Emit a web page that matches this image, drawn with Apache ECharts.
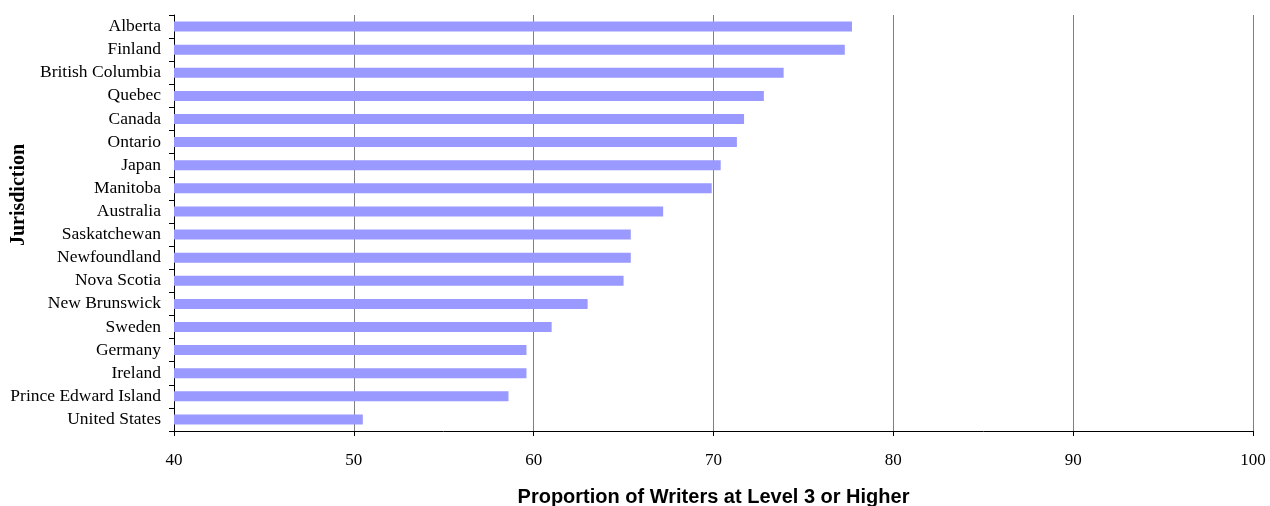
<!DOCTYPE html>
<html>
<head>
<meta charset="utf-8">
<script src="https://cdn.jsdelivr.net/npm/echarts@6/dist/echarts.min.js"></script>
<style>html,body{margin:0;padding:0;background:#fff;}#c{width:1270px;height:506px;}</style>
</head>
<body>
<div id="c"></div>
<script>
const categories = ["Alberta","Finland","British Columbia","Quebec","Canada","Ontario","Japan","Manitoba","Australia","Saskatchewan","Newfoundland","Nova Scotia","New Brunswick","Sweden","Germany","Ireland","Prince Edward Island","United States"];
const values = [77.7,77.3,73.9,72.8,71.7,71.3,70.4,69.9,67.2,65.4,65.4,65.0,63.0,61.0,59.6,59.6,58.6,50.5];
const xTicks = [40,50,60,70,80,90,100];
const xTitle = "Proportion of Writers at Level 3 or Higher";
const yTitle = "Jurisdiction";

const chart = echarts.init(document.getElementById('c'), null, {renderer:'canvas'});
chart.setOption({
  animation:false,
  backgroundColor:'#ffffff',
  grid:{left:174,right:17,top:15,bottom:75,containLabel:false,outerBoundsMode:'none'},
  xAxis:{
    type:'value', min:xTicks[0], max:xTicks[xTicks.length-1], interval:10,
    name:xTitle, nameLocation:'middle', nameGap:56, nameMoveOverlap:false,
    nameTextStyle:{fontFamily:'Liberation Sans, Arial, sans-serif',fontWeight:'bold',fontSize:20,color:'#000'},
    axisLine:{show:true,lineStyle:{color:'#000',width:1}},
    axisTick:{show:true,length:5,inside:false,lineStyle:{color:'#000'}},
    axisLabel:{margin:21,fontFamily:'Liberation Serif, Times New Roman, serif',fontSize:17,color:'#000'},
    splitLine:{show:true,lineStyle:{color:'#808080',width:1}}
  },
  yAxis:{
    type:'category', data:categories, inverse:true,
    name:yTitle, nameLocation:'middle', nameGap:145, nameRotate:90, nameMoveOverlap:false,
    nameTextStyle:{fontFamily:'Liberation Serif, Times New Roman, serif',fontWeight:'bold',fontSize:20,color:'#000',padding:[0,0,0,56]},
    axisLine:{show:true,lineStyle:{color:'#000',width:1}},
    axisTick:{show:true,length:5,inside:false,interval:0,alignWithLabel:false,lineStyle:{color:'#000'}},
    axisLabel:{margin:13,interval:0,fontFamily:'Liberation Serif, Times New Roman, serif',fontSize:17.5,color:'#000'},
    splitLine:{show:false}
  },
  series:[{
    type:'bar', data:values, barWidth:10,
    itemStyle:{color:'#9999FF'}
  }]
});
</script>
</body>
</html>
